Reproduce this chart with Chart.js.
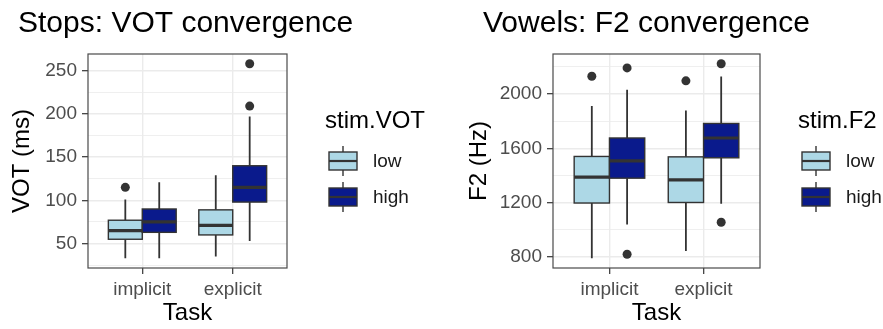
<!DOCTYPE html>
<html>
<head>
<meta charset="utf-8">
<script src="https://cdn.jsdelivr.net/npm/chart.js@4.4.1/dist/chart.umd.min.js"></script>
<style>
  body { margin: 0; background: #fff; }
  #wrap { position: relative; width: 883px; height: 329px; }
  canvas { position: absolute; top: 0; }
  #stops { left: 0; }
  #vowels { left: 441px; }
</style>
</head>
<body>
<div id="wrap">
  <canvas id="stops" width="441" height="329"></canvas>
  <canvas id="vowels" width="442" height="329"></canvas>
</div>
<script>
const tasks = ['implicit', 'explicit'];
const stimLevels = ['low', 'high'];

// per task: [lower whisker, Q1, median, Q3, upper whisker]
const votLow = [[33, 55, 65, 77, 101], [35, 60, 71, 89, 129]];
const votHigh = [[33, 63, 75, 90, 121], [53, 98, 115, 140, 197]];
const votLowOut = [[115], []];
const votHighOut = [[], [209, 258]];
const votTicks = [50, 100, 150, 200, 250];
const votMinorTicks = [25, 75, 125, 175, 225];

const f2Low = [[790, 1197, 1387, 1540, 1912], [844, 1201, 1367, 1537, 1878]];
const f2High = [[1039, 1380, 1508, 1676, 2031], [1192, 1530, 1676, 1783, 2128]];
const f2LowOut = [[2131], [2097]];
const f2HighOut = [[2192, 820], [2223, 1055]];
const f2Ticks = [800, 1200, 1600, 2000];
const f2MinorTicks = [1000, 1400, 1800, 2200];

const lowFill = '#ADD8E6';
const highFill = '#0A1A8C';
const ink = '#333333';
const boxWidth = 0.375;
const dodge = boxWidth / 2;
const FONT = "'Liberation Sans', Arial, sans-serif";

Chart.defaults.font.family = FONT;

// ggplot-style 5% padding around everything that is drawn
function paddedRange(...lists) {
  const all = lists.flat(2);
  const lo = Math.min(...all), hi = Math.max(...all);
  const pad = (hi - lo) * 0.05;
  return [lo - pad, hi + pad];
}

const boxplots = {
  id: 'boxplots',
  beforeDatasetsDraw(chart, args, opts) {
    const {ctx, scales: {x, y}} = chart;
    const half = (x.getPixelForValue(boxWidth) - x.getPixelForValue(0)) / 2;
    ctx.save();
    opts.groups.forEach(g => {
      g.stats.forEach((s, i) => {
        const cx = x.getPixelForValue(i + 1 + g.offset);
        const [lo, q1, med, q3, hi] = s.map(v => y.getPixelForValue(v));
        ctx.strokeStyle = ink;
        ctx.lineWidth = 1.8;
        ctx.beginPath();
        ctx.moveTo(cx, lo); ctx.lineTo(cx, q1);
        ctx.moveTo(cx, q3); ctx.lineTo(cx, hi);
        ctx.stroke();
        ctx.fillStyle = g.fill;
        ctx.fillRect(cx - half, q3, 2 * half, q1 - q3);
        ctx.lineWidth = 1.4;
        ctx.strokeRect(cx - half, q3, 2 * half, q1 - q3);
        ctx.lineWidth = 3.2;
        ctx.beginPath();
        ctx.moveTo(cx - half, med); ctx.lineTo(cx + half, med);
        ctx.stroke();
      });
    });
    ctx.restore();
  },
  afterDatasetsDraw(chart) {
    const {ctx, chartArea: a} = chart;
    ctx.save();
    ctx.strokeStyle = '#4a4a4a';
    ctx.lineWidth = 1.2;
    ctx.strokeRect(a.left, a.top, a.width, a.height);
    ctx.restore();
  },
  afterDraw(chart, args, opts) {
    const {ctx, chartArea} = chart;
    const lx = chartArea.right + 38;
    ctx.save();
    ctx.fillStyle = '#000';
    ctx.font = '24px ' + FONT;
    ctx.textAlign = 'left';
    ctx.textBaseline = 'alphabetic';
    ctx.fillText(opts.title, lx, 128);
    opts.groups.forEach((g, i) => {
      const cy = 161 + i * 36;
      const bx = lx + 4, bw = 28, bh = 18;
      ctx.strokeStyle = ink;
      ctx.lineWidth = 1.4;
      ctx.beginPath();
      ctx.moveTo(bx + bw / 2, cy - 15); ctx.lineTo(bx + bw / 2, cy + 15);
      ctx.stroke();
      ctx.fillStyle = g.fill;
      ctx.fillRect(bx, cy - bh / 2, bw, bh);
      ctx.strokeRect(bx, cy - bh / 2, bw, bh);
      ctx.lineWidth = 2.2;
      ctx.beginPath();
      ctx.moveTo(bx, cy); ctx.lineTo(bx + bw, cy);
      ctx.stroke();
      ctx.fillStyle = '#1a1a1a';
      ctx.font = '19px ' + FONT;
      ctx.textBaseline = 'middle';
      ctx.fillText(g.label, bx + bw + 16, cy + 1);
      ctx.textBaseline = 'alphabetic';
      ctx.font = '24px ' + FONT;
    });
    ctx.restore();
  }
};

function boxChart(id, cfg) {
  const groups = [
    {label: stimLevels[0], stats: cfg.low, outliers: cfg.lowOut, fill: lowFill, offset: -dodge},
    {label: stimLevels[1], stats: cfg.high, outliers: cfg.highOut, fill: highFill, offset: dodge}
  ];
  const [yMin, yMax] = paddedRange(cfg.low, cfg.high, cfg.lowOut, cfg.highOut);
  const isMajor = v => cfg.ticks.includes(v);
  return new Chart(document.getElementById(id), {
    type: 'scatter',
    data: {
      datasets: groups.map(g => ({
        label: g.label,
        data: g.outliers.flatMap((vals, i) => vals.map(v => ({x: i + 1 + g.offset, y: v}))),
        pointRadius: 4.5,
        pointHoverRadius: 4.5,
        backgroundColor: ink,
        borderWidth: 0
      }))
    },
    options: {
      responsive: false,
      animation: false,
      devicePixelRatio: 1,
      layout: {padding: {left: cfg.padLeft, right: 0, top: 0, bottom: 0}},
      plugins: {
        legend: {display: false},
        tooltip: {enabled: false},
        title: {
          display: true,
          text: cfg.title,
          align: 'start',
          color: '#000',
          font: {size: 30, weight: 'normal', lineHeight: 1},
          padding: {top: 9, bottom: 15}
        },
        boxplots: {groups, title: cfg.legendTitle}
      },
      scales: {
        x: {
          type: 'linear',
          min: 0.4,
          max: 2.6,
          afterBuildTicks: s => { s.ticks = tasks.map((t, i) => ({value: i + 1})); },
          afterFit: s => { s.height = 61; },
          ticks: {
            callback: v => tasks[v - 1],
            color: '#4d4d4d',
            font: {size: 19},
            padding: 4,
            maxRotation: 0,
            autoSkip: false
          },
          grid: {color: '#ebebeb', lineWidth: 1.4, tickColor: ink, tickLength: 6, tickWidth: 1.2},
          border: {display: false},
          title: {
            display: true,
            text: 'Task',
            color: '#000',
            font: {size: 24, lineHeight: 1},
            padding: {top: 0, bottom: 4}
          }
        },
        y: {
          type: 'linear',
          min: yMin,
          max: yMax,
          afterBuildTicks: s => {
            s.ticks = [...cfg.minorTicks, ...cfg.ticks].sort((a, b) => a - b).map(v => ({value: v}));
          },
          afterFit: s => { s.width = 70; },
          ticks: {
            callback: v => isMajor(v) ? String(v) : '',
            color: '#4d4d4d',
            font: {size: 19},
            padding: 5,
            autoSkip: false
          },
          grid: {
            color: '#ebebeb',
            lineWidth: c => isMajor(c.tick.value) ? 1.4 : 0.8,
            tickColor: c => isMajor(c.tick.value) ? ink : 'rgba(0,0,0,0)',
            tickLength: 6,
            tickWidth: 1.2
          },
          border: {display: false},
          title: {
            display: true,
            text: cfg.yTitle,
            color: '#000',
            font: {size: 24, lineHeight: 1},
            padding: {top: cfg.yTitleShift, bottom: 0}
          }
        },
        // empty right-hand axis that keeps room for the legend
        legendSpace: {
          type: 'linear',
          position: 'right',
          grid: {display: false},
          ticks: {display: false},
          border: {display: false},
          afterFit: s => { s.width = cfg.legendWidth; }
        }
      }
    },
    plugins: [boxplots]
  });
}

boxChart('stops', {
  title: 'Stops: VOT convergence',
  yTitle: 'VOT (ms)',
  legendTitle: 'stim.VOT',
  low: votLow, high: votHigh, lowOut: votLowOut, highOut: votHighOut,
  ticks: votTicks, minorTicks: votMinorTicks,
  padLeft: 18, legendWidth: 154, yTitleShift: -8
});

boxChart('vowels', {
  title: 'Vowels: F2 convergence',
  yTitle: 'F2 (Hz)',
  legendTitle: 'stim.F2',
  low: f2Low, high: f2High, lowOut: f2LowOut, highOut: f2HighOut,
  ticks: f2Ticks, minorTicks: f2MinorTicks,
  padLeft: 42, legendWidth: 123, yTitleShift: -16
});
</script>
</body>
</html>
